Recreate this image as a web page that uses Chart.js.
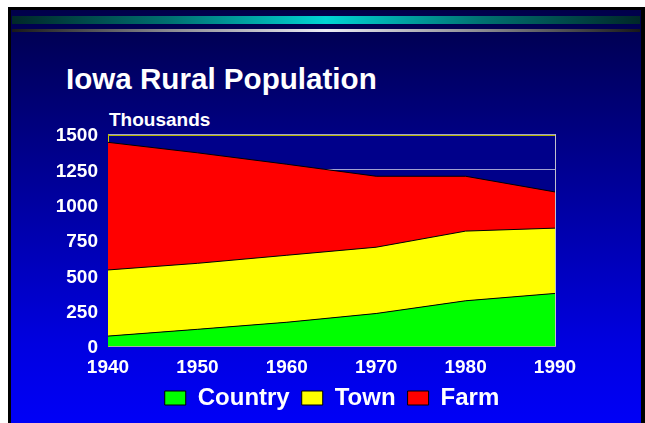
<!DOCTYPE html>
<html>
<head>
<meta charset="utf-8">
<script src="https://cdn.jsdelivr.net/npm/chart.js@4/dist/chart.umd.min.js"></script>
<style>
  html, body { margin:0; padding:0; background:#ffffff; width:645px; height:423px; overflow:hidden; }
  #slide { position:absolute; left:8px; top:7px; width:637px; height:420px; box-sizing:border-box;
    border-top:3px solid #000; border-left:3px solid #000; border-right:4px solid #000;
    background: linear-gradient(to bottom, #00004a 0%, #000070 20%, #0000a8 50%, #0000e0 80%, #0000f8 100%); }
  #bar1 { position:absolute; left:12px; top:16px; width:628px; height:8px;
    background: linear-gradient(to right, #002828 0%, #007070 25%, #00d4d4 50%, #007070 75%, #002828 100%); }
  #bar2 { position:absolute; left:12px; top:29px; width:628px; height:3px;
    background: linear-gradient(to right, #181818 0%, #8a8a90 25%, #ececf4 50%, #8a8a90 75%, #181818 100%); }
  .txt { position:absolute; color:#fff; font-family: Arial, "Liberation Sans", sans-serif; font-weight:bold; white-space:nowrap; }
  #title { left:66px; top:64px; font-size:29.6px; line-height:29px; }
  #units { left:109px; top:110px; font-size:19px; line-height:19px; }
  #c { position:absolute; left:0; top:0; }
</style>
</head>
<body>
<div id="slide"></div>
<div id="bar1"></div>
<div id="bar2"></div>
<div class="txt" id="title">Iowa Rural Population</div>
<div class="txt" id="units">Thousands</div>
<canvas id="c" width="645" height="423"></canvas>
<script>
const years = ['1940', '1950', '1960', '1970', '1980', '1990'];
const country = [70, 118, 168, 230, 320, 372];
const town = [468, 467, 474, 469, 493, 462];
const farm = [903, 782, 644, 502, 388, 256];
const seriesNames = ['Country', 'Town', 'Farm'];
const yTicks = [0, 250, 500, 750, 1000, 1250, 1500];

const FONT = 'Arial, "Liberation Sans", sans-serif';

const plotBg = {
  id: 'plotBg',
  afterLayout(chart) {
    const L = chart.legend;
    if (!L) return;
    const w = L.right - L.left, h = L.bottom - L.top;
    const cx = 332;
    L.left = cx - w / 2; L.right = L.left + w;
    L.top = 374; L.bottom = L.top + h;
  },
  beforeDraw(chart) {
    const a = chart.chartArea, ctx = chart.ctx;
    ctx.save();
    ctx.fillStyle = '#00008a';
    ctx.fillRect(a.left, a.top, a.right - a.left, a.bottom - a.top);
    ctx.restore();
  },
  beforeDatasetsDraw(chart) {
    const a = chart.chartArea, ctx = chart.ctx;
    ctx.save();
    ctx.strokeStyle = '#b4b400';
    ctx.lineWidth = 1;
    ctx.beginPath();
    ctx.moveTo(a.left, a.top + 1.5);
    ctx.lineTo(a.right, a.top + 1.5);
    ctx.stroke();
    ctx.restore();
  }
};

new Chart(document.getElementById('c'), {
  type: 'line',
  data: {
    labels: years,
    datasets: [
      { label: seriesNames[0], data: country, backgroundColor: '#00ff00', borderColor: '#000000', borderWidth: 1, fill: 'origin', pointRadius: 0, tension: 0 },
      { label: seriesNames[1], data: town, backgroundColor: '#ffff00', borderColor: '#000000', borderWidth: 1, fill: '-1', pointRadius: 0, tension: 0 },
      { label: seriesNames[2], data: farm, backgroundColor: '#ff0000', borderColor: '#000000', borderWidth: 1, fill: '-1', pointRadius: 0, tension: 0 }
    ]
  },
  options: {
    responsive: false,
    animation: false,
    devicePixelRatio: 1,
    layout: { padding: { left: 56, right: 90, top: 134, bottom: 2 } },
    plugins: {
      legend: {
        position: 'bottom',
        labels: {
          color: '#ffffff',
          font: { family: FONT, size: 24, weight: 'bold' },
          boxWidth: 21,
          boxHeight: 14,
          padding: 12
        }
      },
      tooltip: { enabled: false },
      filler: { propagate: false }
    },
    scales: {
      x: {
        type: 'category',
        offset: false,
        grid: {
          drawTicks: false,
          color: (ctx) => ctx.index === 0 ? '#c8c800' : (ctx.index === years.length - 1 ? '#c0c0cc' : 'rgba(0,0,0,0)'),
          lineWidth: 1
        },
        border: { display: true, color: '#a8a8a8', width: 1 },
        ticks: {
          color: '#ffffff',
          font: { family: FONT, size: 19, weight: 'bold' },
          padding: 10,
          maxRotation: 0,
          autoSkip: false
        },
        afterFit: (s) => { s.height = 29; }
      },
      y: {
        stacked: true,
        min: 0,
        max: 1500,
        afterBuildTicks: (s) => { s.ticks = yTicks.map(v => ({ value: v })); },
        grid: {
          drawTicks: false,
          color: (ctx) => ctx.tick && ctx.tick.value === 0 ? 'rgba(0,0,0,0)' : '#a0a0d0',
          lineWidth: 1
        },
        border: { display: true, color: '#c8c800', width: 1 },
        ticks: {
          color: '#ffffff',
          font: { family: FONT, size: 19, weight: 'bold' },
          padding: 10,
          labelOffset: 2,
          callback: (v) => String(v)
        },
        afterFit: (s) => { s.width = 52; }
      }
    }
  },
  plugins: [plotBg]
});
</script>
</body>
</html>
